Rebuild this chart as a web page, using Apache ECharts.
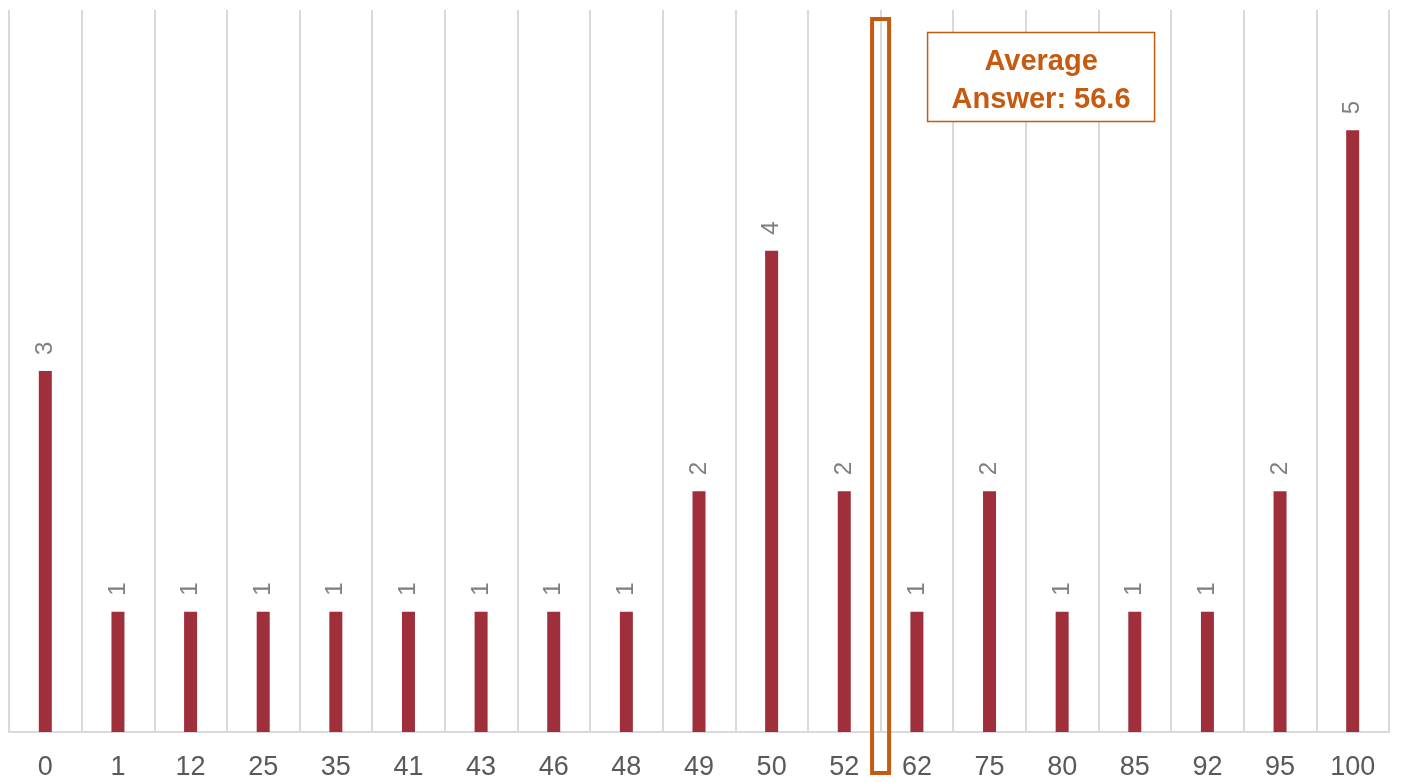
<!DOCTYPE html>
<html>
<head>
<meta charset="utf-8">
<script src="https://cdn.jsdelivr.net/npm/echarts@6/dist/echarts.min.js"></script>
<style>
  html, body { margin: 0; padding: 0; background: #ffffff; }
  #chart { width: 1408px; height: 782px; }
</style>
</head>
<body>
<div id="chart"></div>
<script>
// Answers given (x) and how many people gave each answer (bar height)
const answers = ['0', '1', '12', '25', '35', '41', '43', '46', '48', '49', '50', '52', '62', '75', '80', '85', '92', '95', '100'];
const counts = [3, 1, 1, 1, 1, 1, 1, 1, 1, 2, 4, 2, 1, 2, 1, 1, 1, 2, 5];
const averageAnswer = 56.6;

const BAR = '#9E2F3B';
const ACCENT = '#C55A11';
const GRID = '#D9D9D9';
const FONT = '"Liberation Sans", Arial, sans-serif';

const chart = echarts.init(document.getElementById('chart'), null, { renderer: 'canvas' });

chart.setOption({
  animation: false,
  backgroundColor: '#ffffff',
  grid: { left: 9, right: 19, top: 10, bottom: 50, containLabel: false },
  xAxis: {
    type: 'category',
    data: answers,
    boundaryGap: true,
    axisLine: { show: true, lineStyle: { color: GRID, width: 2 } },
    axisTick: { show: false },
    axisLabel: {
      interval: 0,
      margin: 22,
      color: '#595959',
      fontFamily: FONT,
      fontSize: 27
    },
    splitLine: { show: true, interval: 0, lineStyle: { color: GRID, width: 2 } }
  },
  yAxis: {
    type: 'value',
    min: 0,
    max: 6,
    show: false,
    splitLine: { show: false }
  },
  series: [{
    type: 'bar',
    data: counts,
    barWidth: 13,
    itemStyle: { color: BAR },
    label: {
      show: true,
      position: 'top',
      distance: 16,
      rotate: 90,
      align: 'left',
      verticalAlign: 'middle',
      color: '#7F7F7F',
      fontFamily: FONT,
      fontSize: 24
    }
  }]
});

// Marker for the average answer: sits between the two answers that bracket it
function drawAverage() {
  const nums = answers.map(Number);
  let hi = nums.findIndex(v => v > averageAnswer);
  if (hi < 1) hi = 1;
  const xa = chart.convertToPixel({ xAxisIndex: 0 }, hi - 1);
  const xb = chart.convertToPixel({ xAxisIndex: 0 }, hi);
  const mid = (xa + xb) / 2;
  const bottom = chart.convertToPixel({ yAxisIndex: 0 }, 0);

  chart.setOption({
    graphic: [
      {
        type: 'rect',
        z: 100,
        shape: { x: mid - 8.5, y: 19, width: 17, height: bottom + 41 - 19 },
        style: { fill: 'none', stroke: ACCENT, lineWidth: 4 }
      },
      {
        type: 'rect',
        z: 100,
        shape: { x: mid + 47, y: 32.5, width: 227, height: 89 },
        style: { fill: '#ffffff', stroke: ACCENT, lineWidth: 1.5 }
      },
      {
        type: 'text',
        z: 101,
        x: mid + 47 + 113.5,
        y: 81,
        style: {
          text: 'Average\nAnswer: ' + averageAnswer,
          fill: ACCENT,
          font: 'bold 29px ' + FONT,
          lineHeight: 38,
          align: 'center',
          verticalAlign: 'middle'
        }
      }
    ]
  });
}
drawAverage();
</script>
</body>
</html>
